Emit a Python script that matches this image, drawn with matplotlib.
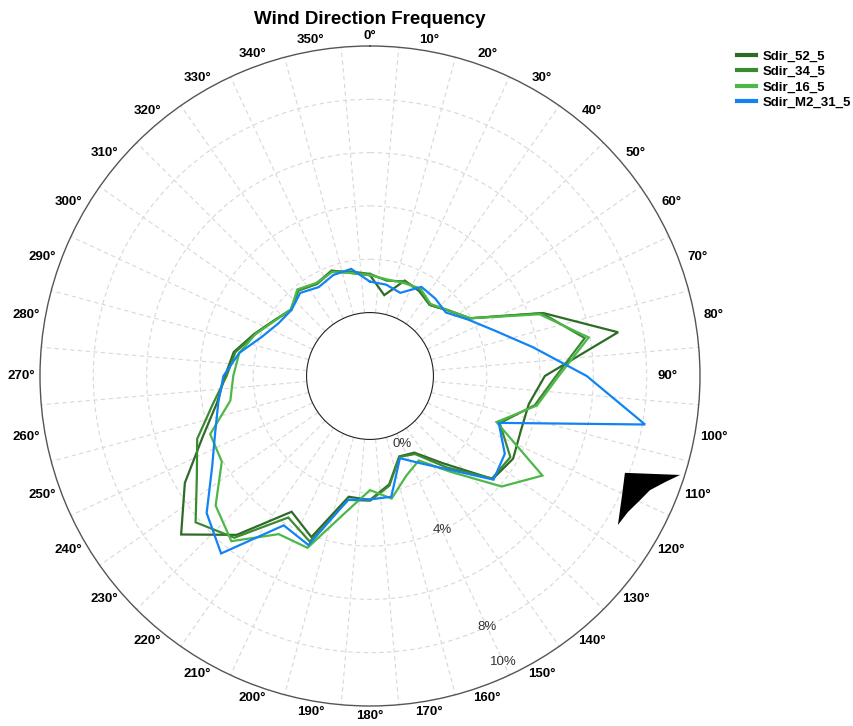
import numpy as np
import matplotlib
matplotlib.use("Agg")
import matplotlib.pyplot as plt
from matplotlib.lines import Line2D

# ---------------- data ----------------
directions = list(range(0, 360, 10))  # degrees (bearing)

series_names = ["Sdir_52_5", "Sdir_34_5", "Sdir_16_5", "Sdir_M2_31_5"]

sdir_52_5 = [1.40, 0.70, 1.43, 1.30, 1.10, 1.45, 1.95, 4.53, 7.07, 4.18,
             3.67, 3.64, 3.82, 3.63, 1.90, 0.94, 0.83, 1.75, 2.27, 2.22,
             4.05, 3.50, 5.40, 6.87, 5.64, 4.30, 3.45, 3.06, 2.81, 2.24,
             1.78, 1.47, 1.82, 1.63, 1.83, 1.54]

sdir_34_5 = [1.45, 1.25, 1.40, 1.35, 1.10, 1.45, 1.95, 4.50, 5.80, 4.60,
             3.90, 2.80, 3.70, 3.60, 2.10, 1.00, 0.85, 1.80, 2.30, 2.34,
             4.23, 3.75, 5.54, 6.16, 5.12, 4.52, 3.60, 3.00, 2.75, 2.20,
             1.78, 1.50, 1.80, 1.60, 1.80, 1.60]

sdir_16_5 = [1.40, 1.30, 1.33, 1.41, 1.15, 1.46, 1.95, 4.39, 5.95, 4.70,
             3.98, 2.67, 5.09, 4.07, 2.31, 1.28, 1.60, 2.29, 1.90, 2.80,
             4.48, 4.47, 5.71, 5.18, 4.04, 4.00, 2.94, 2.75, 2.60, 2.20,
             1.75, 1.50, 1.86, 1.65, 1.77, 1.54]

sdir_m2_31_5 = [1.16, 1.10, 0.94, 1.48, 1.42, 1.33, 1.86, 2.60, 3.83, 5.75,
                8.10, 2.76, 3.46, 3.67, 2.20, 1.40, 0.90, 2.22, 2.25, 2.33,
                4.37, 4.09, 6.31, 5.62, 4.46, 3.80, 3.40, 3.12, 2.60, 1.93,
                1.58, 1.47, 1.69, 1.47, 1.65, 1.70]

series_colors = ["#2E6B26", "#3A8A32", "#4DB847", "#1283F5"]

radial_ticks = [0, 4, 8, 10]
radial_tick_labels = ["0%", "4%", "8%", "10%"]
grid_circles = [2, 4, 6, 8]
angle_labels = [f"{d}\u00b0" for d in directions]

# rendering glitch blob seen near 110 deg in the reference
glitch_dir = [110.8, 107.7, 109.8, 112.2, 114.7, 117.8, 121.0, 115.3]
glitch_val = [7.85, 9.83, 9.38, 8.96, 8.77, 8.56, 8.47, 8.08]

# ---------------- figure ----------------
plt.rcParams['font.family'] = ['Liberation Sans', 'DejaVu Sans']
fig = plt.figure(figsize=(8.54, 7.26), dpi=100)
ax = fig.add_axes([40 / 854, 20 / 726, 660 / 854, 660 / 726], projection='polar')
ax.set_theta_zero_location('N')
ax.set_theta_direction(-1)
ax.set_ylim(0, 10)
ax.set_rorigin(-2.38)

# grid
ax.set_xticks([])
ax.set_xticks(np.deg2rad(np.arange(5, 360, 10)), minor=True)
ax.xaxis.grid(True, which='minor', color='#d8d8d8', linestyle=(0, (4, 3)), linewidth=0.8)
ax.set_yticks(grid_circles)
ax.set_yticklabels([])
ax.yaxis.grid(True, color='#d8d8d8', linestyle=(0, (4, 3)), linewidth=0.8)
ax.tick_params(which='both', length=0)
ax.spines['polar'].set_color('#555555')
ax.spines['polar'].set_linewidth(1.0)
try:
    ax.spines['inner'].set_color('#222222')
    ax.spines['inner'].set_linewidth(0.8)
except KeyError:
    pass

# series
all_series = [sdir_52_5, sdir_34_5, sdir_16_5, sdir_m2_31_5]
theta = np.deg2rad(directions + [directions[0]])
handles = []
for name, vals, col in zip(series_names, all_series, series_colors):
    ax.plot(theta, list(vals) + [vals[0]], color=col, linewidth=1.6, solid_joinstyle='miter')
    handles.append(Line2D([], [], color=col, linewidth=3))

# glitch blob
ax.fill(np.deg2rad(glitch_dir), glitch_val, color='black', linewidth=0, zorder=5)

# angle labels
for d, lab in zip(directions, angle_labels):
    px = 340 + 9 * abs(np.sin(np.deg2rad(d)))
    if d == 90:
        px = 298
    rv = px / 330 * 12.38 - 2.38
    ax.text(np.deg2rad(d), rv, lab, ha='center', va='center', fontsize=9.5,
            fontweight='bold', color='black', clip_on=False)

# radial labels
for t, lab in zip(radial_ticks, radial_tick_labels):
    rv = float(np.clip(t, 0.45, 9.45))
    ax.text(np.deg2rad(155), rv, lab, ha='center', va='center', fontsize=9.5,
            color='#333333', clip_on=False)

fig.text(370 / 854, 1 - 20 / 726, "Wind Direction Frequency", ha='center', va='center',
         fontsize=13.5, fontweight='bold')

fig.legend(handles, series_names, loc='upper left', bbox_to_anchor=(732 / 854, 1 - 45 / 726),
           frameon=False, prop={'weight': 'bold', 'size': 9.5},
           handlelength=1.4, handletextpad=0.5, labelspacing=0.25, borderaxespad=0)

fig.savefig("out.png", dpi=100)
